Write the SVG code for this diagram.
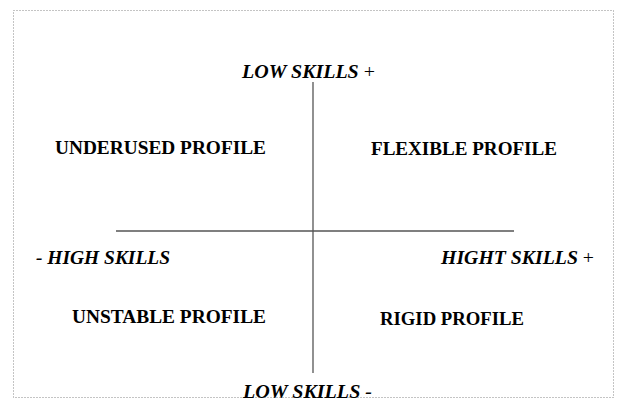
<svg xmlns="http://www.w3.org/2000/svg" width="620" height="398" viewBox="0 0 620 398">
<style>
.axis{font-family:"Liberation Serif","Times New Roman",serif;font-size:19.5px;font-weight:bold;font-style:italic;fill:#000}
.plus{font-weight:normal;font-style:normal}
.prof{font-family:"Liberation Serif","Times New Roman",serif;font-size:18px;font-weight:bold;fill:#000}
.ln{stroke:#555;stroke-width:1.3;fill:none}
</style>
<rect width="620" height="398" fill="#fff"/>
<rect x="13.5" y="10.5" width="600" height="387" fill="none" stroke="#888" stroke-width="1" stroke-dasharray="1,2"/>
<g id="connectors">
<line class="ln" x1="313" y1="82" x2="313" y2="373"/>
<line class="ln" x1="116" y1="231" x2="514" y2="231"/>
</g>
<g id="low-plus"><text class="axis" x="242" y="78" textLength="133" lengthAdjust="spacingAndGlyphs">LOW SKILLS <tspan class="plus">+</tspan></text></g>
<g id="underused"><text class="prof" x="55" y="154" textLength="211" lengthAdjust="spacingAndGlyphs">UNDERUSED  PROFILE</text></g>
<g id="flexible"><text class="prof" x="371" y="155" textLength="186" lengthAdjust="spacingAndGlyphs">FLEXIBLE  PROFILE</text></g>
<g id="high-minus"><text class="axis" x="36" y="264" textLength="134" lengthAdjust="spacingAndGlyphs">- HIGH SKILLS</text></g>
<g id="high-plus"><text class="axis" x="441" y="264" textLength="153" lengthAdjust="spacingAndGlyphs">HIGHT SKILLS <tspan class="plus">+</tspan></text></g>
<g id="unstable"><text class="prof" x="72" y="323" textLength="194" lengthAdjust="spacingAndGlyphs">UNSTABLE  PROFILE</text></g>
<g id="rigid"><text class="prof" x="380" y="325" textLength="144" lengthAdjust="spacingAndGlyphs">RIGID PROFILE</text></g>
<g id="low-minus"><text class="axis" x="243" y="398" textLength="129" lengthAdjust="spacingAndGlyphs">LOW SKILLS -</text></g>
</svg>
